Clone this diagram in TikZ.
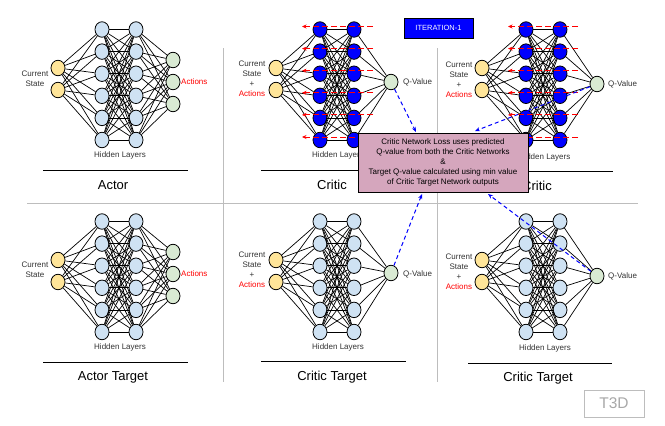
\documentclass[tikz,border=0pt]{standalone}
\usepackage{fontspec}
\setmainfont{Liberation Sans}
\usetikzlibrary{calc,arrows.meta,shapes.geometric}
\definecolor{inpc}{HTML}{FFE599}
\definecolor{hidc}{HTML}{CFE2F3}
\definecolor{outc}{HTML}{D9EAD3}
\definecolor{bluec}{HTML}{0000FF}
\definecolor{pinkc}{HTML}{D5A6BD}
\definecolor{gridc}{HTML}{BDBDBD}
\definecolor{txtc}{HTML}{333333}
\definecolor{t3dc}{HTML}{A8A8A8}
\tikzset{
 neuron/.style={ellipse, draw=black, line width=0.8pt, minimum width=14pt, minimum height=15.5pt, inner sep=0pt},
 inp/.style={neuron, fill=inpc},
 hid/.style={neuron, fill=hidc},
 hidb/.style={neuron, fill=bluec},
 outp/.style={neuron, fill=outc},
 netline/.style={black, line width=0.7pt},
 smalltxt/.style={font=\fontsize{8}{10}\selectfont, text=txtc, align=center, inner sep=0pt},
 ttl/.style={font=\fontsize{13}{15}\selectfont, inner sep=0pt},
 seprule/.style={black, line width=0.9pt},
 gridline/.style={gridc, line width=1pt},
 redarr/.style={red, dash pattern=on 6pt off 3pt, line width=1pt, -{Stealth[length=4.5pt,width=4pt]}},
 bluearr/.style={bluec, dash pattern=on 4pt off 3pt, line width=1pt, -{Stealth[length=5pt,width=4pt]}},
}
\newcommand\drawnet[5]{%
  \foreach \k/\yy in {1/68,2/90}{\node[inp] (#1-i\k) at (58+#2,\yy+#3) {};}
  \foreach \k in {1,...,6}{%
    \node[#4] (#1-a\k) at (102+#2,{29.5+22.1*(\k-1)+#3}) {};
    \node[#4] (#1-b\k) at (136+#2,{29.5+22.1*(\k-1)+#3}) {};}
  \foreach \k/\yy in {#5}{\node[outp] (#1-o\k) at (173+#2,\yy+#3) {};}
  \foreach \p in {1,2}{\foreach \q in {1,...,6}{\draw[netline] (#1-i\p) -- (#1-a\q);}}
  \foreach \p in {1,...,6}{\foreach \q in {1,...,6}{\draw[netline] (#1-a\p) -- (#1-b\q);}}
  \foreach \p in {1,...,6}{\foreach \q/\yy in {#5}{\draw[netline] (#1-b\p) -- (#1-o\q);}}
}
\begin{document}
\begin{tikzpicture}[x=1pt,y=-1pt]
\useasboundingbox (0,0) rectangle (665,426);
\fill[white] (0,0) rectangle (665,426);
% grid
\draw[gridline] (27,203) -- (638,203);
\draw[gridline] (223,48) -- (223,382);
\draw[gridline] (437,48) -- (437,382);
% networks
\drawnet{a}{0}{0}{hid}{1/60,2/82,3/104}
\drawnet{c}{218}{0}{hidb}{1/82}
\drawnet{r}{424}{0}{hidb}{1/84}
\drawnet{at}{0}{192}{hid}{1/60,2/82,3/104}
\drawnet{ct}{218}{192}{hid}{1/81}
\drawnet{rt}{424}{192}{hid}{1/84}
% labels top-left
\node[smalltxt] (a-lbl) at (35,79) {Current\\State};
\node[smalltxt, text=red, anchor=west] (a-act) at (181,82) {Actions};
\node[smalltxt] (a-hl) at (120,155) {Hidden Layers};
\draw[seprule] (43,170) -- (188,170);
\node[ttl] (a-t) at (113,185) {Actor};
% labels top-middle
\node[smalltxt] (c-lbl) at (252,79) {Current\\State\\+\\\textcolor{red}{Actions}};
\node[smalltxt, anchor=west] (c-q) at (403,82) {Q-Value};
\node[smalltxt] (c-hl) at (338,155) {Hidden Layers};
\draw[seprule] (261,170) -- (406,170);
\node[ttl] (c-t) at (332,185) {Critic};
% labels top-right
\node[smalltxt] (r-lbl) at (459,80) {Current\\State\\+\\\textcolor{red}{Actions}};
\node[smalltxt, anchor=west] (r-q) at (608,84) {Q-Value};
\node[smalltxt] (r-hl) at (544.5,157) {Hidden Layers};
\draw[seprule] (468,171) -- (613,171);
\node[ttl] (r-t) at (537,186) {Critic};
% labels bottom-left
\node[smalltxt] (at-lbl) at (35,270) {Current\\State};
\node[smalltxt, text=red, anchor=west] (at-act) at (181,274) {Actions};
\node[smalltxt] (at-hl) at (120,347) {Hidden Layers};
\draw[seprule] (43,362) -- (188,362);
\node[ttl] (at-t) at (113,377) {Actor Target};
% labels bottom-middle
\node[smalltxt] (ct-lbl) at (252,270) {Current\\State\\+\\\textcolor{red}{Actions}};
\node[smalltxt, anchor=west] (ct-q) at (403,274) {Q-Value};
\node[smalltxt] (ct-hl) at (338,347) {Hidden Layers};
\draw[seprule] (261,361) -- (406,361);
\node[ttl] (ct-t) at (332,377) {Critic Target};
% labels bottom-right
\node[smalltxt] (rt-lbl) at (459,272) {Current\\State\\+\\\textcolor{red}{Actions}};
\node[smalltxt, anchor=west] (rt-q) at (608,276) {Q-Value};
\node[smalltxt] (rt-hl) at (545,348) {Hidden Layers};
\draw[seprule] (468,363) -- (612,363);
\node[ttl] (rt-t) at (538,378) {Critic Target};
% red backprop arrows
\foreach \k in {1,...,6}{%
  \draw[redarr] ($(c-b\k)+(19,-3)$) -- ($(c-a\k)+(-18,-3)$);
  \draw[redarr] ($(r-b\k)+(18,-3)$) -- ($(r-a\k)+(-18,-3)$);}
% iteration box
\node[draw=black, line width=0.8pt, fill=bluec, text=white, font=\fontsize{7.5}{9}\selectfont, minimum width=69pt, minimum height=20pt, inner sep=0pt] (iter) at (438.5,28) {ITERATION-1};
% loss box
\node[draw=black, line width=0.8pt, fill=pinkc, minimum width=170pt, minimum height=59pt, align=center, font=\fontsize{8}{10}\selectfont, inner sep=0pt] (loss) at (443,162.5) {Critic Network Loss uses predicted\\Q-value from both the Critic Networks\\\&\\Target Q-value calculated using min value\\of Critic Target Network outputs};
% blue arrows
\coordinate (e1) at (416,132);
\coordinate (e2) at (475,131);
\coordinate (e3) at (422,194);
\coordinate (e4) at (488,194);
\draw[bluearr] (c-o1) -- (e1);
\draw[bluearr] (r-o1) -- (e2);
\draw[bluearr] (ct-o1) -- (e3);
\draw[bluearr] (rt-o1) -- (e4);
% T3D
\node[draw=gridc, line width=1pt, text=t3dc, minimum width=60pt, minimum height=27pt, inner sep=0pt, font=\fontsize{15.5}{18}\selectfont] (t3d) at (614,403.5) {T3D};
\end{tikzpicture}
\end{document}
